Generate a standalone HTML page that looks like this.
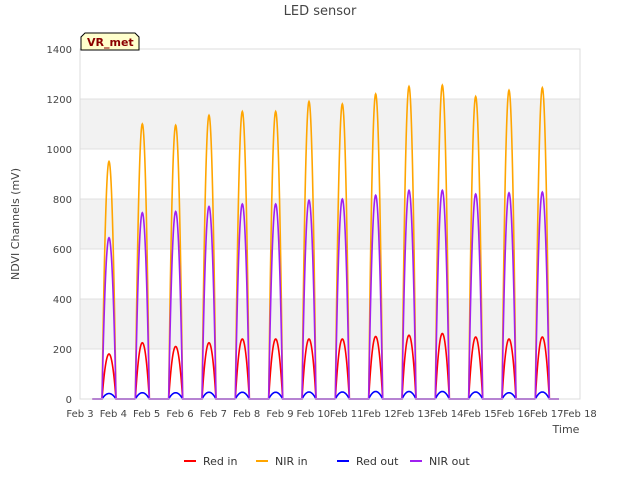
<!DOCTYPE html>
<html><head><meta charset="utf-8"><style>
body{margin:0;background:#fff;font-family:"Liberation Sans",sans-serif;}
svg text{font-family:"DejaVu Sans","Liberation Sans",sans-serif;}
</style></head><body>
<svg id="c" width="640" height="480" xmlns="http://www.w3.org/2000/svg">
<rect width="640" height="480" fill="#fff"/>
<g id="bands"></g><g id="grid"></g><g id="series"></g><g id="axes"></g>
<rect x="80" y="49" width="500" height="350" fill="none" stroke="#dcdcdc"/>
<text x="320" y="15" text-anchor="middle" font-size="13" fill="#444">LED sensor</text>
<text x="19" y="224" text-anchor="middle" font-size="11" fill="#444" transform="rotate(-90 19 224)">NDVI Channels (mV)</text>
<text x="566" y="433" text-anchor="middle" font-size="11" fill="#444">Time</text>
<g>
<path d="M81,50 L81,37 L85,33 L135,33 L139,37 L139,50 Z" fill="#ffffcc" stroke="#000" stroke-width="1"/>
<text x="87" y="46" font-size="11" font-weight="bold" fill="#8b0000">VR_met</text></g>
<g id="legend"></g>
</svg>
<script>
const yTicks=[0,200,400,600,800,1000,1200,1400];
const xLabels=["Feb 3","Feb 4","Feb 5","Feb 6","Feb 7","Feb 8","Feb 9","Feb 10","Feb 11","Feb 12","Feb 13","Feb 14","Feb 15","Feb 16","Feb 17","Feb 18"];
const peakDays=[0.87,1.87,2.87,3.87,4.87,5.87,6.87,7.87,8.87,9.87,10.87,11.87,12.87,13.87];
const nirIn=[950,1100,1095,1135,1150,1150,1190,1180,1220,1250,1255,1210,1235,1245];
const nirOut=[645,745,750,770,780,780,795,800,815,835,835,820,825,828];
const redIn=[180,225,210,225,240,240,240,240,250,255,262,248,240,248];
const redOut=[22,25,25,27,27,27,28,28,30,30,30,28,25,28];
const X0=80,X1=580,Y0=399,Y1=49;
const xs=d=>X0+d*(X1-X0)/15, ys=v=>Y0-v*(Y0-Y1)/1400;
const NS="http://www.w3.org/2000/svg";
function el(p,t,a){const e=document.createElementNS(NS,t);for(const k in a)e.setAttribute(k,a[k]);document.getElementById(p).appendChild(e);return e;}
[[200,400],[600,800],[1000,1200]].forEach(b=>{const r=el('bands','rect',{x:X0,y:ys(b[1]),width:X1-X0,height:ys(b[0])-ys(b[1]),fill:'#f2f2f2'});

});
yTicks.forEach(v=>{const l=el('grid','line',{x1:X0,x2:X1,y1:ys(v),y2:ys(v),stroke:'#e0e0e0'});


const t=el('axes','text',{x:X0-8,y:ys(v)+4,'text-anchor':'end','font-size':10,fill:'#444'});t.textContent=v;

});
xLabels.forEach((s,i)=>{
const t=el('axes','text',{x:xs(i),y:Y0+18,'text-anchor':'middle','font-size':10,fill:'#444'});t.textContent=s;

});
function path(vals,col,name){let d='M'+xs(0.37)+','+ys(0);const w=0.21;
peakDays.forEach((p,i)=>{d+=' L'+xs(p-w)+','+ys(0);for(let k=-20;k<=20;k++){const t=k/20;d+=' L'+xs(p+t*w).toFixed(2)+','+ys(vals[i]*(1-t*t)).toFixed(2);}});
d+=' L'+xs(14.37)+','+ys(0);
const e=el('series','path',{d:d,fill:'none',stroke:col,'stroke-width':1.6});

}
path(nirIn,'#ffa500','nir-in-line');
path(redIn,'#ff0000','red-in-line');
path(redOut,'#0000ff','red-out-line');
path(nirOut,'#a020f0','nir-out-line');
const leg=[["Red in","#ff0000",184],["NIR in","#ffa500",256],["Red out","#0000ff",337],["NIR out","#a020f0",410]];
leg.forEach(g=>{const l=el('legend','line',{x1:g[2],x2:g[2]+12,y1:461,y2:461,stroke:g[1],'stroke-width':2});


const t=el('legend','text',{x:g[2]+19,y:465,'font-size':11,fill:'#333'});t.textContent=g[0];

});
</script>
</body></html>
